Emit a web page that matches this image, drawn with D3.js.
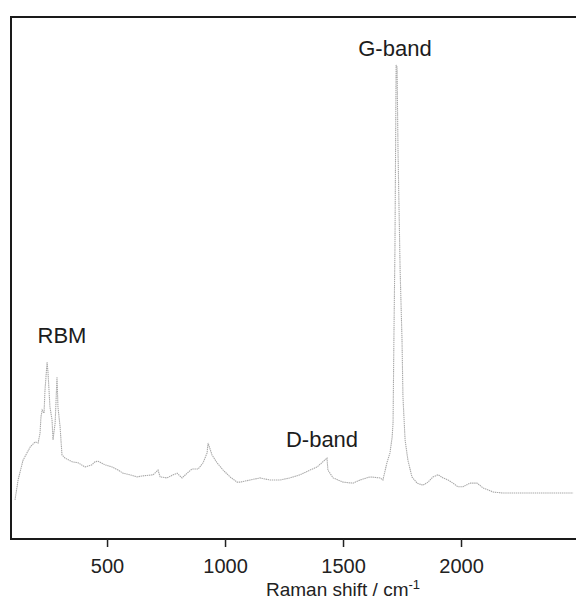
<!DOCTYPE html>
<html>
<head>
<meta charset="utf-8">
<script src="https://cdn.jsdelivr.net/npm/d3@7"></script>
<style>
    body { margin: 0; background: #fff; }
    .frame { fill: none; stroke: #1a1a1a; stroke-width: 2; }
    .axis text { font-family: "Liberation Sans", Arial, sans-serif; font-size: 20px; fill: #222; }
    .axis path { display: none; }
    .axis line { stroke: #222; stroke-width: 1.5; }
    .band-label { font-family: "Liberation Sans", Arial, sans-serif; font-size: 22px; fill: #1c1c1c; }
    #spectrum { fill: none; stroke: #a8a8a8; stroke-width: 1.1; stroke-dasharray: 1.4 0.7; }
</style>
</head>
<body>
<div id="raman"></div>
<script>
// Raman shift (cm-1) and intensity (a.u.)
var shifts = [110, 123, 144, 174, 195, 208, 216, 220, 225, 233, 237, 246, 250, 258, 267, 271, 280, 288, 292, 301, 309,
    322, 352, 377, 407, 436, 449, 462, 492, 521, 547, 568, 597, 627, 653, 695, 716, 725, 754, 780, 797, 818, 839,
    860, 886, 907, 924, 928, 945, 966, 992, 1021, 1051, 1064, 1106, 1148, 1191, 1233, 1275, 1318, 1360, 1390,
    1415, 1432, 1436, 1458, 1500, 1542, 1572, 1614, 1657, 1669, 1686, 1699, 1708, 1712, 1716, 1720, 1725, 1729,
    1733, 1742, 1750, 1754, 1763, 1775, 1792, 1814, 1839, 1860, 1881, 1903, 1924, 1945, 1966, 1987, 2008, 2038,
    2068, 2093, 2136, 2178, 2237, 2292, 2347, 2407, 2475];
var intensities = [7.5, 11.3, 15.1, 17.6, 18.6, 18.4, 20.3, 23.4, 24.7, 24.1, 28.5, 33.9, 31.8, 25.3, 22.8, 19.0, 22.2,
    31.0, 25.3, 21.5, 16.1, 15.5, 14.8, 14.6, 13.8, 14.2, 14.8, 14.9, 14.2, 13.8, 13.2, 12.6, 12.3, 11.9, 12.1,
    12.3, 13.2, 11.9, 11.7, 12.3, 12.6, 11.7, 12.6, 13.4, 13.4, 14.6, 16.5, 18.4, 16.1, 14.6, 13.2, 11.9, 10.9,
    10.9, 11.3, 11.7, 11.3, 11.3, 11.7, 12.3, 13.2, 13.8, 14.8, 15.5, 13.2, 11.7, 10.9, 10.7, 11.3, 11.9, 11.7,
    11.3, 14.6, 16.5, 19.5, 22.2, 40.0, 55.4, 90.8, 90.4, 74.5, 51.5, 38.1, 27.2, 19.0, 15.1, 11.9, 10.7, 10.3,
    10.9, 11.9, 12.3, 11.7, 11.3, 10.7, 10.0, 10.0, 10.7, 10.7, 9.8, 9.0, 8.8, 8.8, 8.8, 8.8, 8.8, 8.8];

var xTicks = [500, 1000, 1500, 2000];
var bandLabels = ["RBM", "D-band", "G-band"];
var bandShifts = [309, 1411, 1720];
var bandHeights = [37.5, 17.6, 92.5];

var margins = { top: 17, right: -3, bottom: 63, left: 11 },
    width = 576 - margins.left - margins.right,
    height = 602 - margins.top - margins.bottom;

var svg = d3.select("#raman")
    .append("svg")
    .attr("width", 576)
    .attr("height", 602)
    .append("g")
    .attr("transform", "translate(" + margins.left + "," + margins.top + ")");

var xScale = d3.scaleLinear()
    .domain([93, 2500])
    .range([0, width]);

var yScale = d3.scaleLinear()
    .domain([0, 100])
    .range([height, 0]);

var data = shifts.map(function (s, i) {
    return {shift: s, intensity: intensities[i]};
});

// Spectrum trace
svg.append("path")
    .attr("id", "spectrum")
    .datum(data)
    .attr("d", d3.line()
        .x(function(d) { return xScale(d.shift) })
        .y(function(d) { return yScale(d.intensity) })
    );

// Box round the plot (right side runs off the page, as in the scan)
svg.append("rect")
    .attr("class", "frame")
    .attr("x", 0)
    .attr("y", 0)
    .attr("width", width + 20)
    .attr("height", height);

// x axis with outward ticks
svg.append("g")
    .attr("class", "axis")
    .attr("transform", "translate(0," + height + ")")
    .call(d3.axisBottom(xScale)
        .tickValues(xTicks)
        .tickSize(8)
        .tickPadding(12)
        .tickFormat(d3.format("d")));

// Axis title with superscript
var title = svg.append("text")
    .attr("class", "axis")
    .attr("x", xScale(1500))
    .attr("y", height + 57)
    .attr("text-anchor", "middle")
    .style("font-family", "Liberation Sans, Arial, sans-serif")
    .style("font-size", "19px")
    .style("fill", "#222")
    .text("Raman shift / cm");
title.append("tspan")
    .attr("dy", -7)
    .style("font-size", "13px")
    .text("-1");

// Peak annotations
svg.selectAll(".band-label")
    .data(bandLabels)
    .enter()
    .append("text")
    .attr("class", "band-label")
    .attr("text-anchor", "middle")
    .attr("x", function(d, i) { return xScale(bandShifts[i]) })
    .attr("y", function(d, i) { return yScale(bandHeights[i]) })
    .text(function(d) { return d });
</script>
</body>
</html>
